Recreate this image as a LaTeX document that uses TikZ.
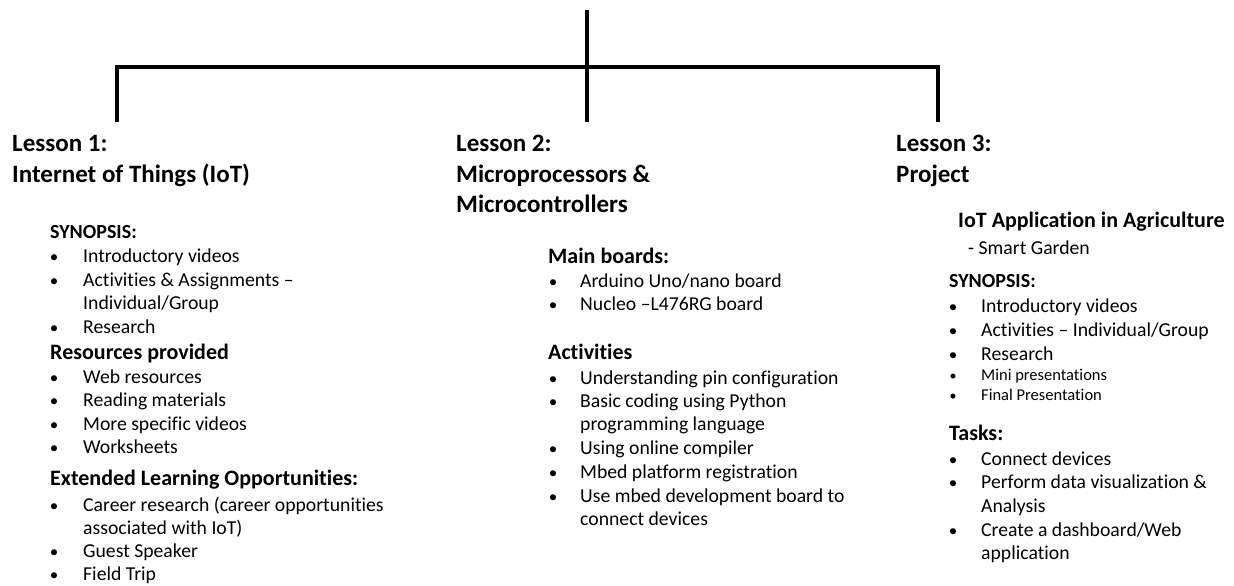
\documentclass[tikz,border=0pt]{standalone}
\usepackage{fontspec}
\setmainfont{Carlito}[RawFeature={-liga}]
\tikzset{
  tree/.style={draw, line width=3.5pt},
  lesson/.style={anchor=base west, inner sep=0pt, font=\fontsize{25}{30}\selectfont\bfseries},
  subhead/.style={anchor=base west, inner sep=0pt, font=\fontsize{22}{26}\selectfont\bfseries},
  caps/.style={anchor=base west, inner sep=0pt, font=\fontsize{20}{24}\selectfont\bfseries},
  item/.style={anchor=base west, inner sep=0pt, font=\fontsize{19.7}{23.5}\selectfont},
  smallitem/.style={anchor=base west, inner sep=0pt, font=\fontsize{16.5}{20}\selectfont},
  dot/.style={anchor=base, inner sep=0pt, font=\fontsize{17}{20}\selectfont}
}
\begin{document}
\begin{tikzpicture}[x=1pt, y=-1pt]
\useasboundingbox (0,0) rectangle (1234,586);

% tree
\coordinate (root) at (587,10);
\coordinate (bar) at (587,67);
\coordinate (b1) at (117,122);
\coordinate (b2) at (587,122);
\coordinate (b3) at (938,122);
\path[tree] (root) -- (bar);
\path[tree] (b1) |- (bar) -| (b3);
\path[tree] (bar) -- (b2);

% Lesson 1
\node[lesson] (l1a) at (12,151) {Lesson 1:};
\node[lesson] (l1b) at (12,182) {Internet of Things (IoT)};
\node[caps] (syn1) at (50,238) {SYNOPSIS:};
\node[subhead] (res1) at (50,359) {Resources provided};
\node[subhead] (ext1) at (50,485) {Extended Learning Opportunities:};
\foreach \y/\t in {262/Introductory videos, 286/Activities \& Assignments –,
  309/{Individual/Group}, 333/Research, 383/Web resources, 406/Reading materials,
  430/More specific videos, 453/Worksheets, 511/Career research (career opportunities,
  534/associated with IoT), 557/Guest Speaker, 580/Field Trip}
  \node[item] (a\y) at (83,\y) {\t};
\foreach \y in {262,286,333,383,406,430,453,511,557,580}
  \node[dot] (da\y) at (54,\y) {•};

% Lesson 2
\node[lesson] (l2a) at (456,151) {Lesson 2:};
\node[lesson] (l2b) at (456,182) {Microprocessors \&};
\node[lesson] (l2c) at (456,212) {Microcontrollers};
\node[subhead] (brd2) at (548,263) {Main boards:};
\node[subhead] (act2) at (548,359) {Activities};
\foreach \y/\t in {287/{Arduino Uno/nano board}, 310/Nucleo –L476RG board,
  384/Understanding pin configuration, 407/Basic coding using Python,
  430/programming language, 454/Using online compiler, 478/Mbed platform registration,
  502/Use mbed development board to, 525/connect devices}
  \node[item] (b\y) at (580,\y) {\t};
\foreach \y in {287,310,384,407,454,478,502}
  \node[dot] (db\y) at (553,\y) {•};

% Lesson 3
\node[lesson] (l3a) at (896,151) {Lesson 3:};
\node[lesson] (l3b) at (896,182) {Project};
\node[subhead] (app3) at (958,227) {IoT Application in Agriculture};
\node[item] (gdn3) at (968,254) {- Smart Garden};
\node[caps] (syn3) at (949,287) {SYNOPSIS:};
\node[subhead] (tsk3) at (949,440) {Tasks:};
\foreach \y/\t in {312/Introductory videos, 336/{Activities – Individual/Group},
  360/Research, 465/Connect devices, 488/Perform data visualization \&,
  512/Analysis, 536/{Create a dashboard/Web}, 559/application}
  \node[item] (c\y) at (981,\y) {\t};
\node[smallitem] (c380) at (981,380) {Mini presentations};
\node[smallitem] (c400) at (981,400) {Final Presentation};
\foreach \y in {312,336,360,465,488,536}
  \node[dot] (dc\y) at (953,\y) {•};
\foreach \y in {380,400}
  \node[dot, font=\fontsize{14}{17}\selectfont] (dc\y) at (953,\y) {•};
\end{tikzpicture}
\end{document}
